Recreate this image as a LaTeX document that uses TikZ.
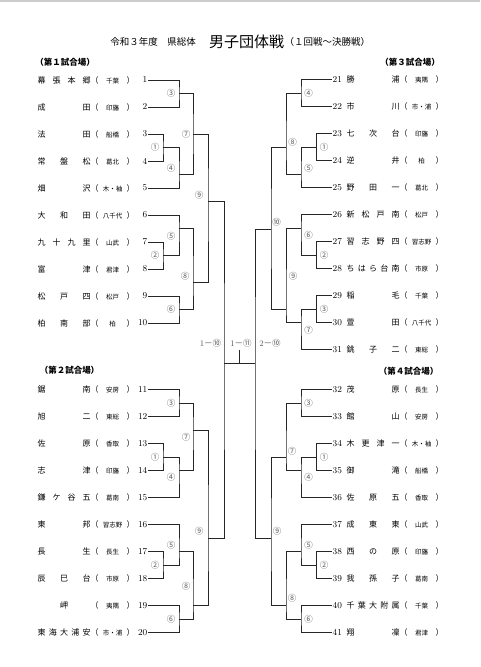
\documentclass[tikz,border=0pt]{standalone}
\usepackage{fontspec}
\newfontfamily\jp{Noto Sans CJK JP}
\usetikzlibrary{positioning}

\begin{document}
\begin{tikzpicture}[x=1pt, y=-1pt,
    num/.style={font=\fontsize{9}{9}\selectfont, inner sep=0.5pt},
    school/.style={font=\jp\fontsize{8}{8}\selectfont, inner sep=0pt},
    area/.style={font=\jp\fontsize{8}{8}\selectfont, inner sep=0pt},
    rnd/.style={font=\jp\fontsize{8.5}{8.5}\selectfont, text=black!65, inner sep=0pt},
    hall/.style={font=\jp\bfseries\fontsize{8.5}{8.5}\selectfont, inner sep=0pt},
    small/.style={font=\jp\fontsize{9.5}{9.5}\selectfont, inner sep=0pt},
    bracket/.style={draw=black!85, line width=0.9pt}]
  \useasboundingbox (0,0) rectangle (480,667);
  \fill[black!20] (0,0) rectangle (480,1.5);

  % title
  \node[font=\jp\fontsize{15}{15}\selectfont, inner sep=0pt, anchor=west] (ttl) at (209,41.5) {男子団体戦};
  \node[small] (ttl1) [left=13pt of ttl] {令和３年度　県総体};
  \node[small] (ttl2) [right=0pt of ttl] {（１回戦～決勝戦）};

  \node[hall] (h1) at (65,62) {（第１試合場）};
  \node[hall] (h2) at (69.5,370) {（第２試合場）};
  \node[hall] (h3) at (410,62) {（第３試合場）};
  \node[hall] (h4) at (408.5,371) {（第４試合場）};

  % teams, left
  \foreach \i/\nm/\af in {1/幕 張 本 郷/千葉, 2/成 田/印旛, 3/法 田/船橋, 4/常 盤 松/葛北,
      5/畑 沢/木・袖, 6/大 和 田/八千代, 7/九 十 九 里/山武, 8/富 津/君津, 9/松 戸 四/松戸,
      10/柏 南 部/柏, 11/鋸 南/安房, 12/旭 二/東総, 13/佐 原/香取, 14/志 津/印旛,
      15/鎌 ケ 谷 五/葛南, 16/東 邦/習志野, 17/長 生/長生, 18/辰 巳 台/市原,
      19/\hfil 岬\hfil/夷隅, 20/東 海 大 浦 安/市・浦}{
    \pgfmathsetmacro\y{\i<11 ? 53+27*\i : 389.5+27*(\i-11)}
    \node[num, anchor=east] (t\i) at (148,\y) {\i};
    \node[school, anchor=west] (n\i) at (37.5,\y) {\makebox[53pt][s]{\nm}};
    \node[area] (a\i) at (112.5,\y) {（\makebox[28pt]{\fontsize{6.5}{6.5}\selectfont\af}）};
  }

  % teams, right
  \foreach \i/\nm/\af in {21/勝 浦/夷隅, 22/市 川/市・浦, 23/七 次 台/印旛, 24/逆 井/柏,
      25/野 田 一/葛北, 26/新 松 戸 南/松戸, 27/習 志 野 四/習志野, 28/ち は ら 台 南/市原,
      29/稲 毛/千葉, 30/萱 田/八千代, 31/銚 子 二/東総, 32/茂 原/長生, 33/館 山/安房,
      34/木 更 津 一/木・袖, 35/御 滝/船橋, 36/佐 原 五/香取, 37/成 東 東/山武,
      38/西 の 原/印旛, 39/我 孫 子/葛南, 40/千 葉 大 附 属/千葉, 41/翔 凜/君津}{
    \pgfmathsetmacro\y{\i<32 ? 79.5+27*(\i-21) : 389.5+27*(\i-32)}
    \node[num, anchor=west] (t\i) at (332,\y) {\i};
    \node[school, anchor=west] (n\i) at (346.5,\y) {\makebox[53pt][s]{\nm}};
    \node[area] (a\i) at (421.5,\y) {（\makebox[28pt]{\fontsize{6.5}{6.5}\selectfont\af}）};
  }

  % match points
  \coordinate (A3) at (179,93.5);   \coordinate (A1) at (163,147.5);
  \coordinate (A4) at (179,174.5);  \coordinate (A7) at (193,134);
  \coordinate (A2) at (163,255.5);  \coordinate (A5) at (179,228.5);
  \coordinate (A6) at (179,309.5);  \coordinate (A8) at (193,282.5);
  \coordinate (A9) at (208,201.5);
  \coordinate (B3) at (179,403);    \coordinate (B1) at (163,457);
  \coordinate (B4) at (179,470.5);  \coordinate (B7) at (193,430);
  \coordinate (B2) at (163,565);    \coordinate (B5) at (179,551.5);
  \coordinate (B6) at (179,619);    \coordinate (B8) at (193,605.5);
  \coordinate (B9) at (208,538);
  \coordinate (C4) at (301,93);     \coordinate (C1) at (316.5,147);
  \coordinate (C5) at (301,174);    \coordinate (C8) at (286,147);
  \coordinate (C2) at (316.5,255);  \coordinate (C6) at (301,228);
  \coordinate (C3) at (316.5,309);  \coordinate (C7) at (301,322.5);
  \coordinate (C9) at (286,309);    \coordinate (C10) at (271,229);
  \coordinate (D3) at (301,403);    \coordinate (D1) at (316.5,457);
  \coordinate (D4) at (301,470.5);  \coordinate (D7) at (286,457);
  \coordinate (D2) at (316.5,565);  \coordinate (D5) at (301,551.5);
  \coordinate (D6) at (301,619);    \coordinate (D8) at (286,605.5);
  \coordinate (D9) at (271,538);
  \coordinate (E1) at (224,363);    \coordinate (E2) at (255,363);
  \coordinate (F) at (239.5,363);   \coordinate (W) at (239.5,350);

  % brackets
  \foreach \p/\m/\q in {t1.east/A3/t2.east, t3.east/A1/t4.east, A1/A4/t5.east, A3/A7/A4,
      t7.east/A2/t8.east, t6.east/A5/A2, t9.east/A6/t10.east, A5/A8/A6, A7/A9/A8,
      t11.east/B3/t12.east, t13.east/B1/t14.east, B1/B4/t15.east, B3/B7/B4,
      t17.east/B2/t18.east, t16.east/B5/B2, t19.east/B6/t20.east, B5/B8/B6, B7/B9/B8,
      t21.west/C4/t22.west, t23.west/C1/t24.west, C1/C5/t25.west, C4/C8/C5,
      t27.west/C2/t28.west, t26.west/C6/C2, t29.west/C3/t30.west, C3/C7/t31.west,
      C6/C9/C7, C8/C10/C9,
      t32.west/D3/t33.west, t34.west/D1/t35.west, D1/D4/t36.west, D3/D7/D4,
      t38.west/D2/t39.west, t37.west/D5/D2, t40.west/D6/t41.west, D5/D8/D6, D7/D9/D8,
      A9/E1/B9, C10/E2/D9}
    \draw[bracket] (\p) -| (\m) |- (\q);
  \draw[bracket] (E1) -- (E2) (F) -- (W);

  % round numbers
  \foreach \m/\x/\y/\r in {A3/171/93.5/③, A1/155/147.5/①, A4/171/168/④, A7/186/134/⑦,
      A2/155/255.5/②, A5/171/236/⑤, A6/171/309.5/⑥, A8/185/276/⑧, A9/199/195/⑨,
      B3/171/403/③, B1/155/457/①, B4/171/477/④, B7/186/437/⑦, B2/155/565/②,
      B5/171/545/⑤, B6/171/619/⑥, B8/186/586/⑧, B9/199/531/⑨,
      C4/308.5/93/④, C1/324/147/①, C5/308.5/168/⑤, C8/292.5/142/⑧, C2/324/255/②,
      C6/308.5/235.5/⑥, C3/324/309/③, C7/308.5/330/⑦, C9/293/276/⑨, C10/276.5/222/⑩,
      D3/308.5/403/③, D1/324/457/①, D4/308.5/477/④, D7/292/451/⑦, D2/324/565/②,
      D5/308.5/545/⑤, D6/308.5/619/⑥, D8/292/598/⑧, D9/277/531.5/⑨}
    \node[rnd] (l\m) at (\x,\y) {\r};

  \node[rnd] (s1) at (210.5,343) {{\rmfamily 1}－⑩};
  \node[rnd] (s2) at (241,343) {{\rmfamily 1}－⑪};
  \node[rnd] (s3) at (270,343) {{\rmfamily 2}－⑩};
\end{tikzpicture}
\end{document}
